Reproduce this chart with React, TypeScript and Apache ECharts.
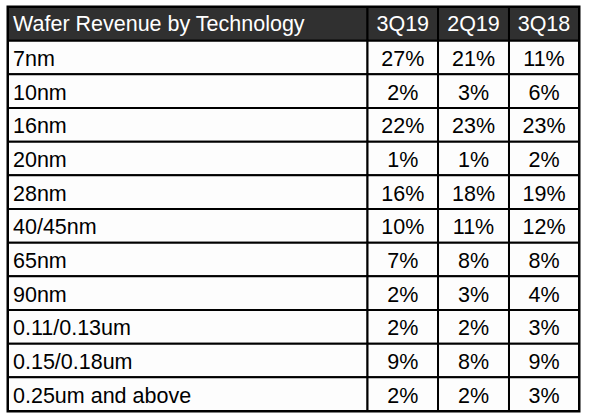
import React, { useEffect, useRef } from "react";
import * as echarts from "echarts";

const title = "Wafer Revenue by Technology";
const periods = ["3Q19", "2Q19", "3Q18"];
const categories = [
  "7nm",
  "10nm",
  "16nm",
  "20nm",
  "28nm",
  "40/45nm",
  "65nm",
  "90nm",
  "0.11/0.13um",
  "0.15/0.18um",
  "0.25um and above",
];
const q3_19 = [27, 2, 22, 1, 16, 10, 7, 2, 2, 9, 2];
const q2_19 = [21, 3, 23, 1, 18, 11, 8, 3, 2, 8, 2];
const q3_18 = [11, 6, 23, 2, 19, 12, 8, 4, 3, 9, 3];

// column edges (percent of table width) - layout only
const colEdges = [0, 62.96, 75.31, 87.74, 100];

type Cell = { col: number; row: number; text: string; header: boolean };

const seriesValues = [q3_19, q2_19, q3_18];
const rows = [title, ...categories];

const cells: Cell[] = [];
cells.push({ col: 0, row: 0, text: title, header: true });
periods.forEach((p, i) => cells.push({ col: i + 1, row: 0, text: p, header: true }));
categories.forEach((c, r) => {
  cells.push({ col: 0, row: r + 1, text: c, header: false });
  seriesValues.forEach((vals, i) =>
    cells.push({ col: i + 1, row: r + 1, text: vals[r] + "%", header: false })
  );
});

export default function App() {
  const ref = useRef<HTMLDivElement>(null);
  useEffect(() => {
    if (!ref.current) return;
    const chart = echarts.init(ref.current, null, { renderer: "svg" });
    const font = "21.5px 'Liberation Sans', Arial, sans-serif";
    chart.setOption({
      animation: false,
      backgroundColor: "#ffffff",
      grid: {
        left: 8,
        top: 7,
        width: 571,
        height: 404,
        show: true,
        borderColor: "#000000",
        borderWidth: 3,
        backgroundColor: "transparent",
      },
      xAxis: { type: "value", min: 0, max: 100, show: false },
      yAxis: {
        type: "category",
        data: rows,
        inverse: true,
        show: false,
      },
      series: [
        {
          type: "custom",
          coordinateSystem: "cartesian2d",
          encode: { x: 0, y: 1 },
          data: cells.map((c) => [c.col, c.row]),
          z: 1,
          renderItem: (params: any, api: any) => {
            const cell = cells[params.dataIndex];
            const row = api.value(1);
            const left = api.coord([colEdges[cell.col], row])[0];
            const right = api.coord([colEdges[cell.col + 1], row])[0];
            const center = api.coord([colEdges[cell.col], row])[1];
            const h = api.size([0, 1])[1];
            const top = center - h / 2;
            const isFirst = cell.col === 0;
            return {
              type: "group",
              children: [
                {
                  type: "rect",
                  shape: { x: left, y: top, width: right - left, height: h },
                  style: {
                    fill: cell.header ? "#303030" : "#fdfdfd",
                    stroke: "#000000",
                    lineWidth: 2,
                  },
                },
                {
                  type: "text",
                  style: {
                    text: cell.text,
                    x: isFirst ? left + 5 : (left + right) / 2,
                    y: center + (cell.header ? 0.5 : 1.5),
                    align: isFirst ? "left" : "center",
                    verticalAlign: "middle",
                    font,
                    fill: cell.header ? "#ffffff" : "#000000",
                  },
                },
              ],
            };
          },
        },
      ],
    });
    return () => chart.dispose();
  }, []);
  return (
    <div
      ref={ref}
      style={{ position: "fixed", left: 0, top: 0, width: 589, height: 417, background: "#fff" }}
    />
  );
}
